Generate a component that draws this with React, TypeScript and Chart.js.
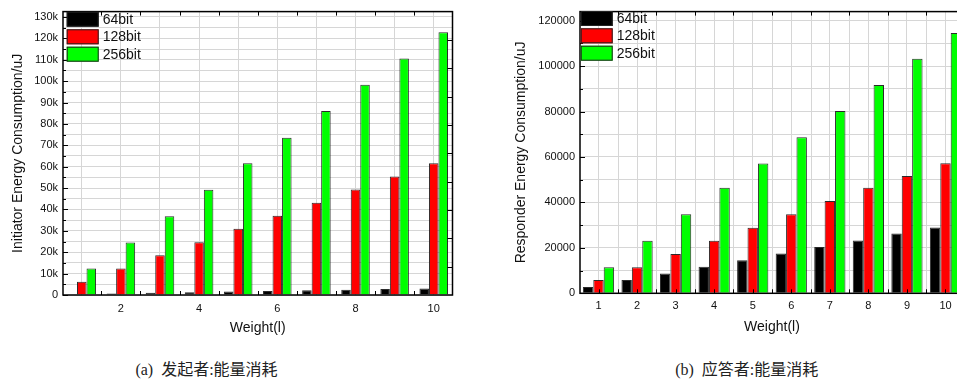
import React, { useEffect, useRef } from "react";
import { Chart, registerables } from "chart.js";

Chart.register(...registerables);

// ---------- data ----------
const weights = [1, 2, 3, 4, 5, 6, 7, 8, 9, 10];
const seriesNames = ["64bit", "128bit", "256bit"];
const seriesColors = ["#000000", "#ff0000", "#00ff00"];

const initiator64 = [300, 700, 1000, 1300, 1600, 1900, 2200, 2500, 2800, 3000];
const initiator128 = [6200, 12400, 18600, 24700, 31000, 37000, 43100, 49300, 55400, 61600];
const initiator256 = [12400, 24600, 36800, 49200, 61600, 73500, 86000, 98300, 110600, 122900];

const responder64 = [2800, 5900, 8700, 11700, 14600, 17500, 20400, 23200, 26300, 29000];
const responder128 = [5900, 11500, 17300, 23100, 28900, 34800, 40600, 46500, 51600, 57300];
const responder256 = [11500, 23100, 34800, 46500, 57100, 68700, 80200, 91700, 103300, 114600];

const captionA = "(a)  发起者:能量消耗";
const captionB = "(b)  应答者:能量消耗";
const xTitle = "Weight(l)";
const yTitleA = "Initiator Energy Consumption/uJ";
const yTitleB = "Responder Energy Consumption/uJ";

const SANS = "'Liberation Sans', Arial, sans-serif";
const GRID = "#d6d6d6";

type FrameOpt = {
  key: string;
  yMajor: number;
  yMinor: number;
  bottomStep: number;
  rightStep: number | null;
  halfGrid: boolean;
  boxX: number;
  textX: number;
  rows: number[];
};

function framePlugin(o: FrameOpt) {
  return {
    id: "frame" + o.key,
    beforeDatasetsDraw(chart: any) {
      if (!o.halfGrid) return;
      const { ctx, chartArea: a, scales } = chart;
      const xs = scales.x;
      ctx.save();
      ctx.strokeStyle = GRID;
      ctx.lineWidth = 1;
      ctx.beginPath();
      for (let v = 0.5; v <= 10.5; v += 1) {
        const px = Math.round(xs.getPixelForValue(v)) + 0.5;
        if (px <= a.left || px >= a.right) continue;
        ctx.moveTo(px, a.top);
        ctx.lineTo(px, a.bottom);
      }
      ctx.stroke();
      ctx.restore();
    },
    afterDatasetsDraw(chart: any) {
      const { ctx, chartArea: a, scales } = chart;
      const xs = scales.x;
      const ys = scales.y;
      ctx.save();
      ctx.strokeStyle = "#000";
      ctx.lineWidth = 1;
      ctx.beginPath();
      // left ticks
      for (let v = 0; v <= ys.max + 1e-6; v += o.yMinor) {
        const py = Math.round(ys.getPixelForValue(v)) + 0.5;
        const len = Math.round(v) % o.yMajor === 0 ? 5 : 3;
        ctx.moveTo(a.left, py);
        ctx.lineTo(a.left + len, py);
      }
      // right ticks
      if (o.rightStep) {
        for (let v = o.rightStep; v < ys.max - 1e-6; v += o.rightStep) {
          const py = Math.round(ys.getPixelForValue(v)) + 0.5;
          ctx.moveTo(a.right, py);
          ctx.lineTo(a.right - 5, py);
        }
      }
      // bottom ticks
      for (let v = 0.5; v <= 10.5; v += o.bottomStep) {
        const px = Math.round(xs.getPixelForValue(v)) + 0.5;
        if (px <= a.left + 2 || px >= a.right - 2) continue;
        ctx.moveTo(px, a.bottom);
        ctx.lineTo(px, a.bottom - 4);
      }
      // top ticks
      for (let v = 0.5; v <= 10.5; v += 1) {
        const px = Math.round(xs.getPixelForValue(v)) + 0.5;
        if (px <= a.left + 2 || px >= a.right - 2) continue;
        ctx.moveTo(px, a.top);
        ctx.lineTo(px, a.top + 4);
      }
      ctx.stroke();
      // frame
      ctx.lineWidth = 1.5;
      ctx.strokeRect(a.left, a.top, a.right - a.left, a.bottom - a.top);
      // legend
      ctx.font = "14px " + SANS;
      ctx.textBaseline = "middle";
      ctx.textAlign = "left";
      chart.data.datasets.forEach((ds: any, i: number) => {
        const top = o.rows[i];
        ctx.fillStyle = ds.backgroundColor;
        ctx.fillRect(o.boxX, top, 32, 15);
        ctx.lineWidth = 1;
        ctx.strokeStyle = "#222";
        ctx.strokeRect(o.boxX + 0.5, top + 0.5, 31, 14);
        ctx.fillStyle = "#111";
        ctx.fillText(ds.label, o.textX, top + 8);
      });
      ctx.restore();
    },
  };
}

type Cfg = {
  data: number[][];
  yMax: number;
  yStep: number;
  yLabelStep: number;
  yFmt: (v: number) => string;
  xLabelStep: number;
  catPct: number;
  yWidth: number;
  xHeight: number;
  padRight: number;
  padTop: number;
  yTitle: string;
  yTitlePad: number;
  xTitlePad: number;
  xTickPad: number;
};

function makeConfig(c: Cfg): any {
  return {
    type: "bar",
    data: {
      labels: weights,
      datasets: c.data.map((d, i) => ({
        label: seriesNames[i],
        data: d,
        backgroundColor: seriesColors[i],
        borderColor: "rgba(20,20,20,0.9)",
        borderWidth: 1,
        barPercentage: 1,
        categoryPercentage: c.catPct,
      })),
    },
    options: {
      responsive: false,
      animation: false,
      devicePixelRatio: 1,
      layout: { padding: { left: 0, right: c.padRight, top: c.padTop, bottom: 0 } },
      plugins: { legend: { display: false }, tooltip: { enabled: false } },
      scales: {
        x: {
          type: "linear",
          min: 0.52,
          max: 10.48,
          offset: false,
          grid: { offset: false, color: GRID, lineWidth: 1, drawTicks: false },
          border: { display: false },
          ticks: {
            autoSkip: false,
            maxRotation: 0,
            padding: c.xTickPad,
            color: "#111",
            font: { family: SANS, size: 11 },
          },
          afterBuildTicks: (s: any) => {
            s.ticks = weights.map((w) => ({ value: w }));
          },
          afterTickToLabelConversion: (s: any) => {
            s.ticks.forEach((t: any) => {
              const r = Math.round(t.value);
              t.label = r % c.xLabelStep === 0 ? String(r) : "";
            });
          },
          title: {
            display: true,
            text: xTitle,
            color: "#111",
            font: { family: SANS, size: 14 },
            padding: { top: 0, bottom: c.xTitlePad },
          },
          afterFit: (s: any) => {
            s.height = c.xHeight;
          },
        },
        y: {
          type: "linear",
          min: 0,
          max: c.yMax,
          grid: { color: GRID, lineWidth: 1, drawTicks: false },
          border: { display: false },
          ticks: {
            autoSkip: false,
            padding: 5,
            color: "#111",
            font: { family: SANS, size: 11 },
          },
          afterBuildTicks: (s: any) => {
            const t: any[] = [];
            for (let v = 0; v <= c.yMax; v += c.yStep) t.push({ value: v });
            s.ticks = t;
          },
          afterTickToLabelConversion: (s: any) => {
            s.ticks.forEach((t: any) => {
              const n = Math.round(t.value);
              t.label = n % c.yLabelStep === 0 ? c.yFmt(n) : "";
            });
          },
          title: {
            display: true,
            text: c.yTitle,
            color: "#111",
            font: { family: SANS, size: 14 },
            padding: { top: c.yTitlePad, bottom: 0 },
          },
          afterFit: (s: any) => {
            s.width = c.yWidth;
          },
        },
      },
    },
  };
}

export default function App() {
  const leftRef = useRef<HTMLCanvasElement>(null);
  const rightRef = useRef<HTMLCanvasElement>(null);

  useEffect(() => {
    const left = new Chart(leftRef.current as HTMLCanvasElement, {
      ...makeConfig({
        data: [initiator64, initiator128, initiator256],
        yMax: 132500,
        yStep: 5000,
        yLabelStep: 10000,
        yFmt: (v) => (v === 0 ? "0" : v / 1000 + "k"),
        xLabelStep: 2,
        catPct: 0.73,
        yWidth: 63,
        xHeight: 50,
        padRight: 27.5,
        padTop: 10.5,
        yTitle: yTitleA,
        yTitlePad: 9.6,
        xTitlePad: 8.1,
        xTickPad: 7,
      }),
      plugins: [
        framePlugin({
          key: "a",
          yMajor: 10000,
          yMinor: 5000,
          bottomStep: 1,
          rightStep: 13250,
          halfGrid: false,
          boxX: 66.7,
          textX: 102.7,
          rows: [11.7, 29.3, 46.7],
        }),
      ],
    });
    const right = new Chart(rightRef.current as HTMLCanvasElement, {
      ...makeConfig({
        data: [responder64, responder128, responder256],
        yMax: 124000,
        yStep: 10000,
        yLabelStep: 20000,
        yFmt: (v) => String(v),
        xLabelStep: 1,
        catPct: 0.81,
        yWidth: 100,
        xHeight: 51.7,
        padRight: 36,
        padTop: 10.5,
        yTitle: yTitleB,
        yTitlePad: 32.4,
        xTitlePad: 9.1,
        xTickPad: 6,
      }),
      plugins: [
        framePlugin({
          key: "b",
          yMajor: 20000,
          yMinor: 10000,
          bottomStep: 0.5,
          rightStep: null,
          halfGrid: true,
          boxX: 100.7,
          textX: 136.7,
          rows: [11, 28.3, 45.7],
        }),
      ],
    });
    return () => {
      left.destroy();
      right.destroy();
    };
  }, []);

  const capStyle: React.CSSProperties = {
    position: "absolute",
    top: 360,
    width: 260,
    textAlign: "center",
    fontFamily: "'Liberation Serif', 'Noto Sans CJK SC', serif",
    fontSize: 16,
    lineHeight: "20px",
    color: "#222",
    whiteSpace: "pre",
  };

  return (
    <div
      style={{
        position: "fixed",
        left: 0,
        top: 0,
        width: 957,
        height: 385,
        overflow: "hidden",
        background: "#fff",
      }}
    >
      <canvas
        ref={leftRef}
        width={480}
        height={345}
        style={{ position: "absolute", left: 0, top: 0 }}
      />
      <canvas
        ref={rightRef}
        width={520}
        height={345}
        style={{ position: "absolute", left: 480, top: 0 }}
      />
      <div style={{ ...capStyle, left: 206.5 - 130 }}>{captionA}</div>
      <div style={{ ...capStyle, left: 746.7 - 130 }}>{captionB}</div>
    </div>
  );
}
